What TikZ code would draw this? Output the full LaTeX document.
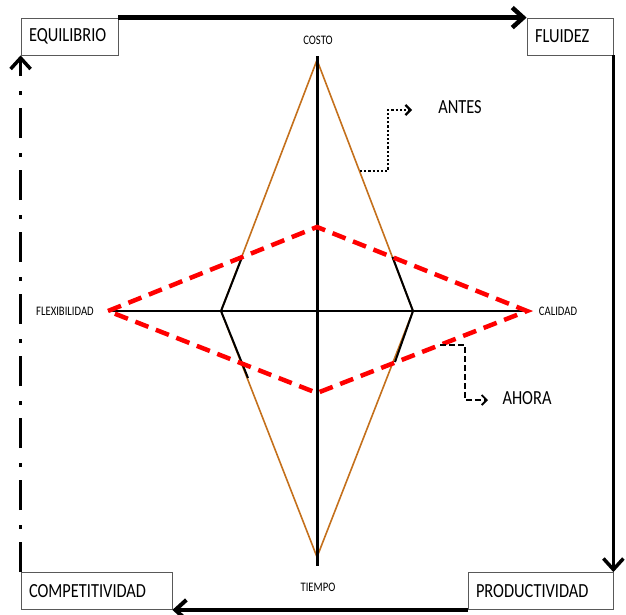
\documentclass[tikz,border=0pt]{standalone}
\usepackage{fontspec}
\setmainfont{Carlito}[FakeStretch=0.82]
\usepackage{tikz}
\usetikzlibrary{arrows.meta}
\usepackage{xcolor}
\definecolor{antescol}{RGB}{196,112,28}

\begin{document}
\begin{tikzpicture}[
        x=1pt, y=-1pt,
        caja/.style={draw=gray!70!black, line width=0.8pt, minimum height=37pt,
                     inner ysep=0pt, inner xsep=8pt, align=left,
                     font=\fontsize{20}{22}\selectfont},
        eje/.style={font=\fontsize{13}{14}\selectfont, inner sep=1pt},
        ciclo/.style={line width=4pt, -{Straight Barb[length=11pt,width=20pt]}},
        leyenda/.style={font=\fontsize{20}{22}\selectfont, inner sep=1pt}
      ]
        \useasboundingbox (0,0) rectangle (626,614);

        \node[caja, text width=81pt]  (equil)  at (69.5,36.5) {EQUILIBRIO};
        \node[caja, text width=70pt]  (fluid)  at (570,36.5) {FLUIDEZ};
        \node[caja, text width=129pt] (prod)   at (540.5,591) {PRODUCTIVIDAD};
        \node[caja, text width=135pt] (compet) at (96.5,591) {COMPETITIVIDAD};

        % ciclo exterior
        \draw[ciclo, line width=4.5pt] (equil.north east) -- (fluid.north west);
        \draw[ciclo, line width=3.5pt] (fluid.south east) -- (prod.north east);
        \draw[ciclo] (prod.south west) -- (compet.south east);
        \draw[ciclo, line width=3.5pt, dash pattern=on 30pt off 13pt on 4pt off 15pt]
             (compet.north west) -- (equil.south west);

        \node[eje] (costo)  at (318,40)  {COSTO};
        \node[eje] (tiempo) at (318,587) {TIEMPO};
        \node[eje] (flex)   at (65,311)  {FLEXIBILIDAD};
        \node[eje] (cal)    at (558,311) {CALIDAD};

        \coordinate (ct) at (317,56);
        \coordinate (cb) at (317,566);
        \coordinate (cl) at (108,311);
        \coordinate (cr) at (527,311);

        % antes
        \coordinate (at) at (317,60);
        \coordinate (ar) at (413,311);
        \coordinate (ab) at (317,557);
        \coordinate (al) at (221,311);
        \draw[antescol, line width=1.6pt] (at) -- (ar) -- (ab) -- (al) -- cycle;

        % ejes
        \draw[line width=3pt] (ct) -- (cb);
        \draw[line width=2.2pt] (cl) -- (cr);

        % ahora
        \draw[line width=2pt] (242.5,256) -- (al) -- (248,378);
        \draw[line width=2pt] (392.5,257) -- (ar) -- (395,362);
        \coordinate (rt) at (317,227);
        \coordinate (rb) at (317,393);
        \draw[red, line width=4.5pt, dash pattern=on 14pt off 8pt]
             (cl) -- (rt) -- (cr) -- (rb) -- cycle;

        \node[leyenda] (antes) at (460,107) {ANTES};
        \node[leyenda] (ahora) at (527,398) {AHORA};
        \coordinate (antesin) at (360,171);
        \coordinate (antesfin) at (412,110);
        \coordinate (ahorain) at (440,345);
        \coordinate (ahorafin) at (488,400);
        \draw[line width=2.2pt, dash pattern=on 2.2pt off 2pt,
              -{Straight Barb[length=5pt,width=10pt]}]
             (antesin) -- (388,171) |- (antesfin);
        \draw[line width=1.8pt, dash pattern=on 6pt off 3pt,
              -{Straight Barb[length=5pt,width=10pt]}]
             (ahorain) -- (465,345) |- (ahorafin);
      \end{tikzpicture}
\end{document}
